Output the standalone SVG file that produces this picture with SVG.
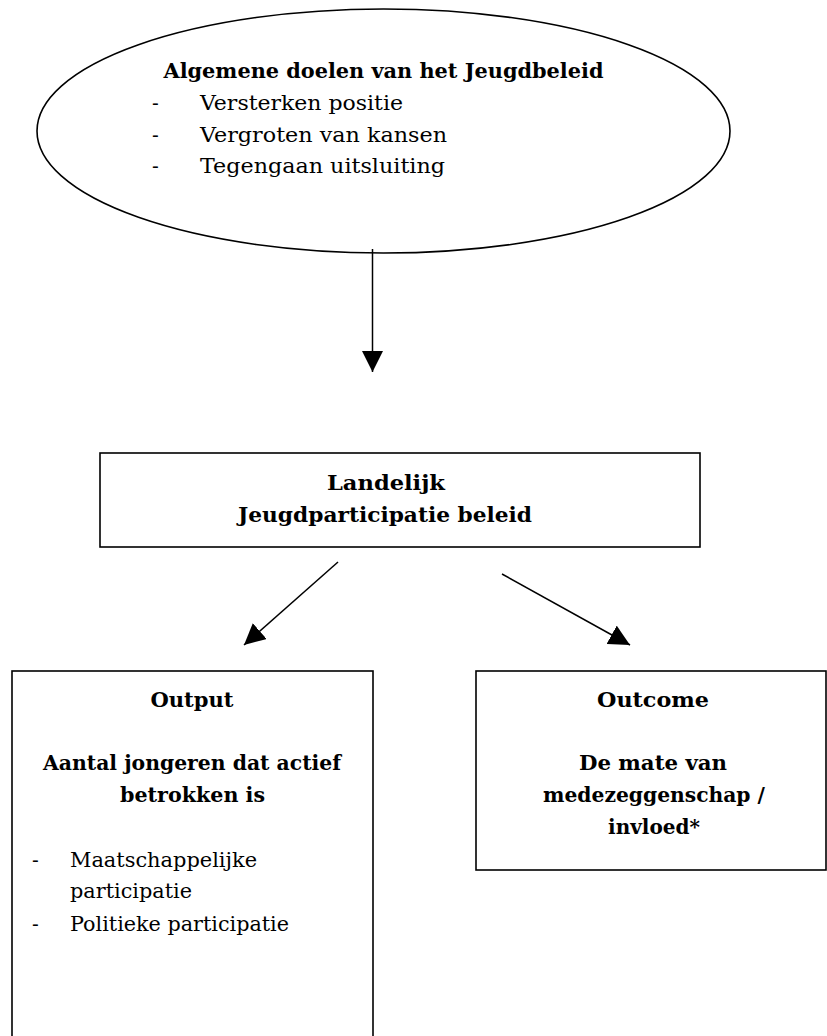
<svg xmlns="http://www.w3.org/2000/svg" width="827" height="1036" viewBox="0 0 827 1036">
<style>
text{font-family:"DejaVu Serif","Liberation Serif",serif;font-size:20px;fill:#000}
.b{font-weight:bold}
.m{text-anchor:middle}
.shape{fill:#fff;stroke:#000;stroke-width:1.6}
.conn{stroke:#000;stroke-width:1.5;fill:none}
</style>
<defs>
<marker id="ah" viewBox="0 0 20 20" refX="20" refY="10" markerWidth="21" markerHeight="21" markerUnits="userSpaceOnUse" orient="auto">
<path d="M0,0 L20,10 L0,20 z" fill="#000"/>
</marker>
</defs>
<rect width="827" height="1036" fill="#fff"/>
<g id="goals">
<ellipse class="shape" cx="383.5" cy="131" rx="346.5" ry="122"/>
<text class="b m" x="383.5" y="78" textLength="440" lengthAdjust="spacingAndGlyphs">Algemene doelen van het Jeugdbeleid</text>
<text x="152" y="110">-</text><text x="200" y="110" textLength="203" lengthAdjust="spacingAndGlyphs">Versterken positie</text>
<text x="152" y="142">-</text><text x="200" y="142" textLength="247" lengthAdjust="spacingAndGlyphs">Vergroten van kansen</text>
<text x="152" y="173">-</text><text x="200" y="173" textLength="245" lengthAdjust="spacingAndGlyphs">Tegengaan uitsluiting</text>
</g>
<g id="landelijk">
<rect class="shape" x="100" y="453" width="600" height="94"/>
<text class="b m" x="386" y="490" textLength="118" lengthAdjust="spacingAndGlyphs">Landelijk</text>
<text class="b m" x="385" y="522" textLength="294" lengthAdjust="spacingAndGlyphs">Jeugdparticipatie beleid</text>
</g>
<g id="output">
<rect class="shape" x="12" y="671" width="361" height="400"/>
<text class="b m" x="192" y="707" textLength="83" lengthAdjust="spacingAndGlyphs">Output</text>
<text class="b m" x="192" y="770" textLength="298" lengthAdjust="spacingAndGlyphs">Aantal jongeren dat actief</text>
<text class="b m" x="192.5" y="802" textLength="145" lengthAdjust="spacingAndGlyphs">betrokken is</text>
<text x="32" y="867">-</text><text x="70" y="867" textLength="187" lengthAdjust="spacingAndGlyphs">Maatschappelijke</text>
<text x="70" y="898" textLength="122" lengthAdjust="spacingAndGlyphs">participatie</text>
<text x="32" y="931">-</text><text x="70" y="931" textLength="219" lengthAdjust="spacingAndGlyphs">Politieke participatie</text>
</g>
<g id="outcome">
<rect class="shape" x="476" y="671" width="350" height="199"/>
<text class="b m" x="653" y="707" textLength="112" lengthAdjust="spacingAndGlyphs">Outcome</text>
<text class="b m" x="653" y="770" textLength="148" lengthAdjust="spacingAndGlyphs">De mate van</text>
<text class="b m" x="654" y="802" textLength="222" lengthAdjust="spacingAndGlyphs">medezeggenschap /</text>
<text class="b m" x="654" y="834">invloed*</text>
</g>
<g id="connectors">
<line class="conn" x1="372.5" y1="249" x2="372.5" y2="372" marker-end="url(#ah)"/>
<line class="conn" x1="338" y1="562" x2="244" y2="645" marker-end="url(#ah)"/>
<line class="conn" x1="502" y1="574" x2="630" y2="645" marker-end="url(#ah)"/>
</g>
</svg>
